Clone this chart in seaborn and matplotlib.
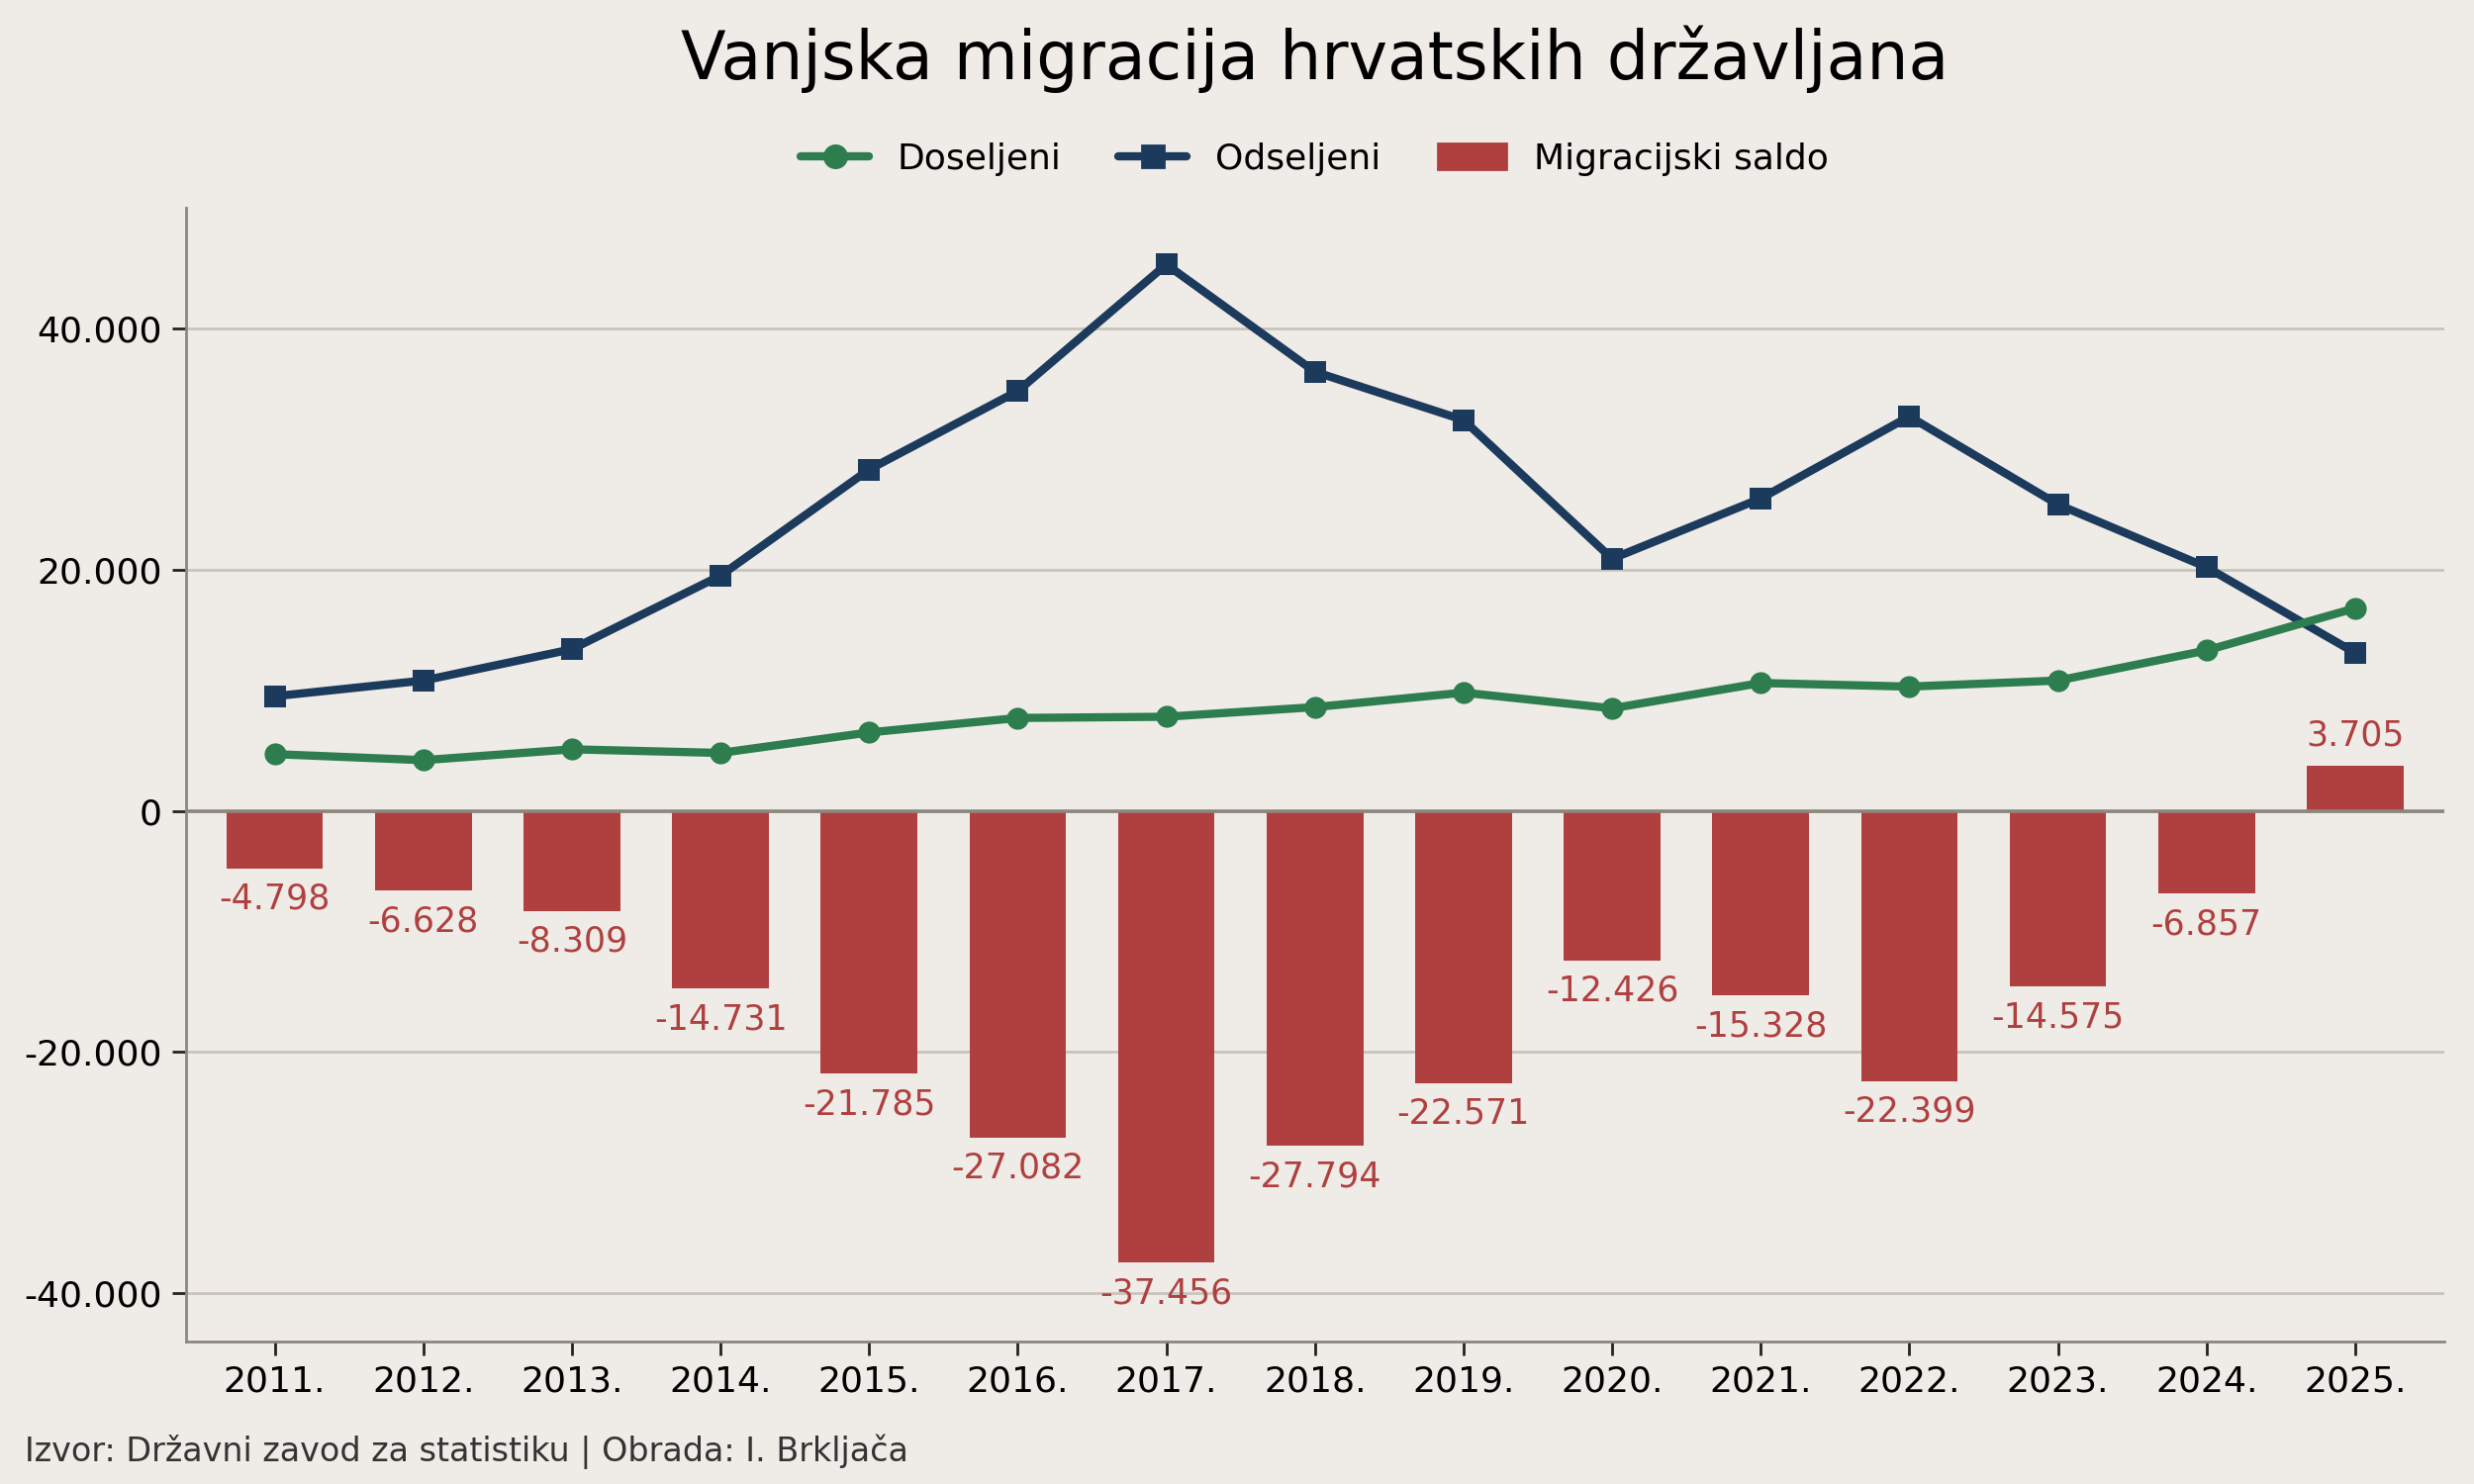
import numpy as np
import pandas as pd
import seaborn as sns
import matplotlib.pyplot as plt
from matplotlib.lines import Line2D
from matplotlib.patches import Patch

# podaci (procjena s grafikona)
godine = [2011, 2012, 2013, 2014, 2015, 2016, 2017, 2018, 2019, 2020, 2021, 2022, 2023, 2024, 2025]
doseljeni = [4700, 4200, 5100, 4800, 6500, 7700, 7800, 8600, 9800, 8500, 10600, 10300, 10800, 13300, 16800]
odseljeni = [9500, 10800, 13400, 19500, 28300, 34800, 45300, 36400, 32400, 20900, 25900, 32700, 25400, 20200, 13100]
saldo = [-4798, -6628, -8309, -14731, -21785, -27082, -37456, -27794, -22571, -12426, -15328, -22399, -14575, -6857, 3705]

BG = "#efece7"
ZELENA = "#2e7d4f"
PLAVA = "#1b3a5c"
CRVENA = "#b04040"

df = pd.DataFrame({"godina": godine, "doseljeni": doseljeni,
                   "odseljeni": odseljeni, "saldo": saldo})

sns.set_theme(style="white")
plt.rcParams["font.family"] = ["DejaVu Sans"]
plt.rcParams["text.color"] = "black"
plt.rcParams["xtick.color"] = "black"
plt.rcParams["ytick.color"] = "black"

fig, ax = plt.subplots(figsize=(12.5, 7.5), dpi=200)
fig.patch.set_facecolor(BG)
ax.set_facecolor(BG)

sns.barplot(data=df, x="godina", y="saldo", native_scale=True, width=0.65,
            color=CRVENA, saturation=1, linewidth=0, ax=ax, zorder=2)
sns.lineplot(data=df, x="godina", y="odseljeni", color=PLAVA, lw=3,
             marker="s", markersize=8, markeredgewidth=0, ax=ax, zorder=4)
sns.lineplot(data=df, x="godina", y="doseljeni", color=ZELENA, lw=3,
             marker="o", markersize=8, markeredgewidth=0, ax=ax, zorder=4)

def fmt(v):
    return f"{v:,.0f}".replace(",", ".")

ax.bar_label(ax.containers[0], labels=[fmt(v) for v in saldo],
             padding=5, color=CRVENA, fontsize=12.5)

ax.axhline(0, color="#8c877e", lw=1.3, zorder=3)
ax.set_ylim(-44000, 50000)
ax.set_xlim(godine[0] - 0.6, godine[-1] + 0.6)
ax.set_yticks([-40000, -20000, 0, 20000, 40000])
ax.set_yticklabels([fmt(v) for v in [-40000, -20000, 0, 20000, 40000]])
ax.set_xticks(godine)
ax.set_xticklabels([f"{g}." for g in godine])
ax.tick_params(axis="both", labelsize=13, length=5, width=1, color="#222222",
               labelcolor="black", left=True, bottom=True)
ax.yaxis.grid(True, color="#c8c4bc", lw=1)
ax.set_axisbelow(True)
ax.set_xlabel("")
ax.set_ylabel("")
sns.despine(ax=ax)
for s in ["left", "bottom"]:
    ax.spines[s].set_color("#8c877e")
    ax.spines[s].set_linewidth(1)

fig.subplots_adjust(left=0.075, right=0.988, top=0.86, bottom=0.096)
sredina = (0.075 + 0.988) / 2

handles = [
    Line2D([], [], color=ZELENA, lw=3, marker="o", markersize=8),
    Line2D([], [], color=PLAVA, lw=3, marker="s", markersize=8),
    Patch(color=CRVENA),
]
fig.legend(handles, ["Doseljeni", "Odseljeni", "Migracijski saldo"],
           loc="center", bbox_to_anchor=(sredina, 0.893), ncol=3, frameon=False,
           fontsize=13, handlelength=1.9, columnspacing=1.6)

fig.text(sredina, 0.96, "Vanjska migracija hrvatskih državljana", fontsize=24,
         ha="center", va="center", color="black")
fig.text(0.01, 0.022, "Izvor: Državni zavod za statistiku | Obrada: I. Brkljača",
         fontsize=12, color="#333333", va="center")

fig.savefig("out.png", facecolor=BG)
